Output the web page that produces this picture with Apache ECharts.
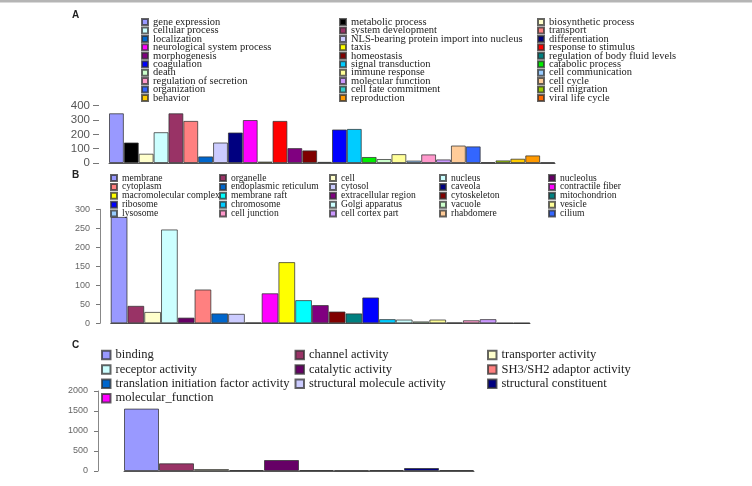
<!DOCTYPE html>
<html><head><meta charset="utf-8">
<script src="https://cdn.jsdelivr.net/npm/echarts@6/dist/echarts.min.js"></script>
<style>html,body{margin:0;padding:0;background:#fff}#c{width:752px;height:486px}</style>
</head><body><div id="c"></div>
<script>
// ---- Panel A: biological process ----
const namesA = ["gene expression","metabolic process","biosynthetic process","cellular process","system development","transport","localization","NLS-bearing protein import into nucleus","differentiation","neurological system process","taxis","response to stimulus","morphogenesis","homeostasis","regulation of body fluid levels","coagulation","signal transduction","catabolic process","death","immune response","cell communication","regulation of secretion","molecular function","cell cycle","organization","cell fate commitment","cell migration","behavior","reproduction","viral life cycle"];
const valuesA = [347,143,65,215,347,294,46,143,213,300,10,294,104,88,8,234,238,42,28,62,17,60,25,122,116,5,18,30,53,4];
const ticksA = [0,100,200,300,400];

// ---- Panel B: cellular component ----
const namesB = ["membrane","organelle","cell","nucleus","nucleolus","cytoplasm","endoplasmic reticulum","cytosol","caveola","contractile fiber","macromolecular complex","membrane raft","extracellular region","cytoskeleton","mitochondrion","ribosome","chromosome","Golgi apparatus","vacuole","vesicle","lysosome","cell junction","cell cortex part","rhabdomere","cilium"];
const valuesB = [280,46,30,247,15,89,26,25,2,79,161,61,48,31,26,68,11,10,5,10,2,8,11,1,1];
const ticksB = [0,50,100,150,200,250,300];

// ---- Panel C: molecular function ----
const namesC = ["binding","channel activity","transporter activity","receptor activity","catalytic activity","SH3/SH2 adaptor activity","translation initiation factor activity","structural molecule activity","structural constituent","molecular_function"];
const valuesC = [1560,192,50,25,275,25,17,25,75,25];
const ticksC = [0,500,1000,1500,2000];

// colours (styles)
const colorsA = ["#9999FF","#000000","#FFFFCC","#CCFFFF","#993366","#FF8080","#0066CC","#CCCCFF","#000080","#FF00FF","#FFFF00","#FF0000","#800080","#800000","#008080","#0000FF","#00CCFF","#00EE00","#CCFFCC","#FFFF99","#99CCFF","#FF99CC","#CC99FF","#FFCC99","#3366FF","#33CCCC","#99CC00","#FFCC00","#FF9900","#FF6600"];
const colorsB = ["#9999FF","#993366","#FFFFCC","#CCFFFF","#660066","#FF8080","#0066CC","#CCCCFF","#000080","#FF00FF","#FFFF00","#00FFFF","#800080","#800000","#008080","#0000FF","#00CCFF","#CCFFFF","#CCFFCC","#FFFF99","#99CCFF","#FF99CC","#CC99FF","#FFCC99","#3366FF"];
const colorsC = ["#9999FF","#993366","#FFFFCC","#CCFFFF","#660066","#FF8080","#0066CC","#CCCCFF","#000080","#FF00FF"];

const panels = [
  {names:namesA, values:valuesA, colors:colorsA, ticks:ticksA,
   grid:{left:109, top:105.7, width:446, height:57.3}, yOffset:10, showAxisLine:false,
   label:{fontSize:11.5, color:'#555', margin:9}, tickLen:6,
   legend:{cols:[141,339,537], top:16.5, gap:-2.56, font:10.5, icon:6}},
  {names:namesB, values:valuesB, colors:colorsB, ticks:ticksB,
   grid:{left:110.7, top:209.3, width:419.3, height:114}, yOffset:10.7, showAxisLine:true,
   label:{fontSize:9, color:'#666', margin:10}, tickLen:4,
   legend:{cols:[110,219,329,439,548], top:173, gap:-1.1, font:9.6, icon:6}},
  {names:namesC, values:valuesC, colors:colorsC, ticks:ticksC,
   grid:{left:124, top:391, width:350, height:80}, yOffset:26, showAxisLine:true,
   label:{fontSize:9, color:'#666', margin:10}, tickLen:4,
   legend:{cols:[101,294.5,487], top:347.8, gap:0, lh:14.4, font:12.5, icon:8.5}}
];

const grid = [], xAxis = [], yAxis = [], series = [], legend = [];
panels.forEach((p, pi) => {
  grid.push(p.grid);
  xAxis.push({type:'category', gridIndex:pi, data:[''], axisTick:{show:false}, axisLabel:{show:false},
    axisLine:{show:true, lineStyle:{color:'#555', width:1}}});
  const t = p.ticks;
  yAxis.push({type:'value', gridIndex:pi, min:t[0], max:t[t.length-1], interval:t[1]-t[0],
    offset:p.yOffset, splitLine:{show:false},
    axisLine:{show:p.showAxisLine, lineStyle:{color:'#888'}},
    axisTick:{show:true, length:p.tickLen, lineStyle:{color:'#777'}},
    axisLabel:{fontFamily:'Liberation Sans, Arial', fontSize:p.label.fontSize, color:p.label.color,
      margin:p.label.margin, formatter:(v) => String(v)}});
  p.names.forEach((n, i) => {
    series.push({type:'bar', name:n, xAxisIndex:pi, yAxisIndex:pi, data:[p.values[i]],
      barGap:'0%', barCategoryGap:'0%',
      itemStyle:{color:p.colors[i], borderColor:'rgba(50,50,50,0.75)', borderWidth:1},
      emphasis:{disabled:true}, animation:false});
  });
  const k = p.legend.cols.length;
  p.legend.cols.forEach((x, j) => {
    const ts = {fontFamily:'Liberation Serif, Times New Roman, serif', fontSize:p.legend.font, color:'#222'};
    if (p.legend.lh) ts.lineHeight = p.legend.lh;
    legend.push({orient:'vertical', left:x, top:p.legend.top, padding:0, itemGap:p.legend.gap,
      selectedMode:false, icon:'rect', itemWidth:p.legend.icon, itemHeight:p.legend.icon,
      data:p.names.filter((_, i) => i % k === j), textStyle:ts});
  });
});

const chart = echarts.init(document.getElementById('c'), null, {renderer:'canvas'});
chart.setOption({
  animation:false,
  backgroundColor:'#fff',
  grid, xAxis, yAxis, series, legend,
  graphic:[
    {type:'rect', left:0, top:0, shape:{width:752, height:2.5}, style:{fill:'#b5b5b5'}},
    {type:'text', left:72, top:10.5, style:{text:'A', font:'bold 10px Liberation Sans, Arial', fill:'#222'}},
    {type:'text', left:72, top:170, style:{text:'B', font:'bold 10px Liberation Sans, Arial', fill:'#222'}},
    {type:'text', left:72, top:340, style:{text:'C', font:'bold 10px Liberation Sans, Arial', fill:'#222'}}
  ]
});
</script></body></html>
